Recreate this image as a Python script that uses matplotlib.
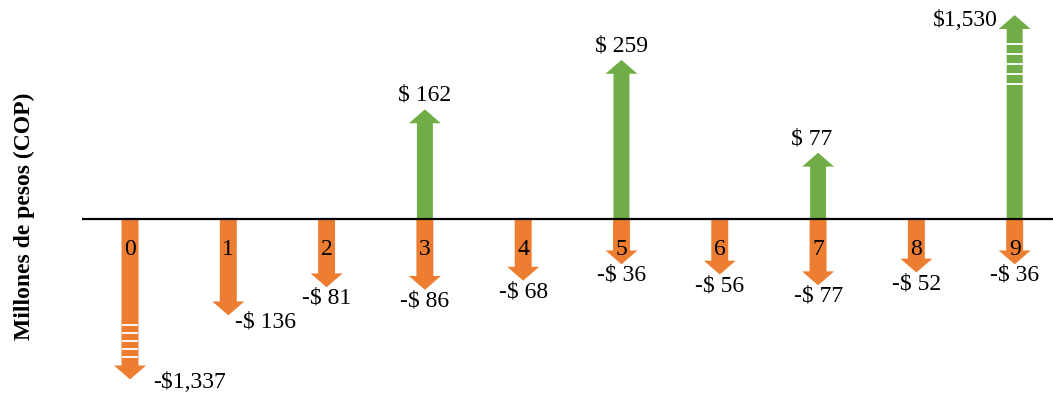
import numpy as np
import matplotlib.pyplot as plt

# Flujo de caja por periodo (millones de pesos)
periodos = np.arange(10)
ingresos = np.array([0, 0, 0, 162, 0, 259, 0, 77, 0, 1530])
egresos = np.array([1337, 136, 81, 86, 68, 36, 56, 77, 52, 36])

VERDE = '#70AD47'
NARANJA = '#ED7D31'
FUENTE = 'Liberation Serif'

# Escala del eje y: largo minimo + parte proporcional; por encima de CORTE
# las flechas se comprimen (se marcan con el corte blanco)
BASE, PEND, CORTE = 27.0, 0.51, 260.0
COMP_POS, COMP_NEG = 25.0, 0.5


def escala(v):
    v = np.asarray(v, dtype=float)
    a = np.abs(v)
    comp = np.where(v > 0, COMP_POS, COMP_NEG)
    largo = BASE + PEND * np.minimum(a, CORTE) + comp * np.log1p(np.maximum(a - CORTE, 0) / CORTE)
    return np.sign(v) * largo


def escala_inv(d):
    d = np.asarray(d, dtype=float)
    a = np.abs(d)
    comp = np.where(d > 0, COMP_POS, COMP_NEG)
    tope = BASE + PEND * CORTE
    lin = np.maximum(a - BASE, 0) / PEND
    exceso = CORTE + CORTE * np.expm1(np.minimum(np.maximum(a - tope, 0) / comp, 600))
    return np.sign(d) * np.where(a <= tope, lin, exceso)


def etiqueta(v):
    return f"${v:,}" if v >= 1000 else f"$ {v}"


fig = plt.figure(figsize=(10.53, 3.96), dpi=100)
ax = fig.add_axes([0, 0, 1, 1])
ax.set_yscale('function', functions=(escala, escala_inv))
ax.set_xlim(-1.3225, 9.39)
ax.set_ylim(escala_inv(-177), escala_inv(219))
ax.axis('off')


def flecha(x, v, color, cola):
    ax.annotate('', xy=(x, v), xytext=(x, 0),
                arrowprops=dict(arrowstyle=f'simple,head_length=1.0,head_width=2.3,tail_width={cola}',
                                color=color, lw=0, shrinkA=0, shrinkB=0, mutation_scale=10))
    if abs(v) > CORTE:
        # marcas de corte sobre el cuerpo de la flecha
        fr = np.linspace(0.66, 0.86, 5)
        ys = escala_inv(np.sign(v) * fr * abs(escala(v)))
        ax.hlines(ys, x - 0.085, x + 0.085, colors='white', lw=1.3, zorder=4)


# egresos hacia abajo
for p, v in zip(periodos, egresos):
    if v > 0:
        flecha(p, -v, NARANJA, 1.22)

# ingresos hacia arriba
for p, v in zip(periodos, ingresos):
    if v > 0:
        flecha(p, v, VERDE, 1.15)

# linea de tiempo
ax.hlines(0, -0.49, 9.39, color='black', lw=1.6, zorder=5)

# numero de periodo
for p in periodos:
    ax.annotate(str(p), xy=(p, 0), xytext=(0, -22), textcoords='offset points',
                ha='center', va='center', fontsize=17, family=FUENTE, zorder=6)

# valores de los egresos
desp_egr = {0: (43, -2), 1: (27, -5)}
for p, v in zip(periodos, egresos):
    dx, dy = desp_egr.get(p, (0, -8))
    ax.annotate('-' + etiqueta(v), xy=(p, -v), xytext=(dx, dy), textcoords='offset points',
                ha='center', va='center', fontsize=17, family=FUENTE)

# valores de los ingresos
desp_ing = {7: (-5, 10, 'center'), 9: (-12, -4, 'right')}
for p, v in zip(periodos, ingresos):
    if v > 0:
        dx, dy, ha = desp_ing.get(p, (0, 10, 'center'))
        ax.annotate(etiqueta(v), xy=(p, v), xytext=(dx, dy), textcoords='offset points',
                    ha=ha, va='center', fontsize=17, family=FUENTE)

fig.text(24 / 1053, 1 - 216 / 396, 'Millones de pesos (COP)', rotation=90,
         ha='center', va='center', fontsize=17, fontweight='bold', family=FUENTE)

fig.savefig('out.png', dpi=100)
